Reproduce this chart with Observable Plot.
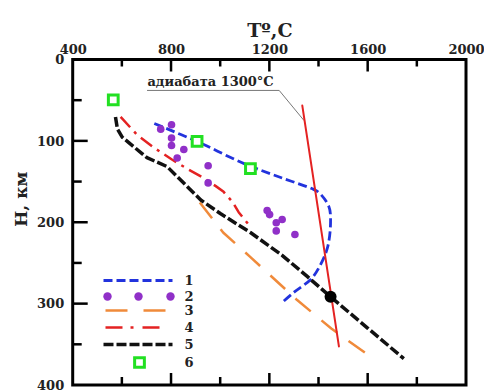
<!DOCTYPE html>
<html><head><meta charset="utf-8">
<script src="https://cdn.jsdelivr.net/npm/d3@7"></script>
<script src="https://cdn.jsdelivr.net/npm/@observablehq/plot@0.6"></script>
<style>
body{margin:0;background:#fff;}
#wrap{position:relative;width:484px;height:390px;}
#overlay{position:absolute;left:0;top:0;pointer-events:none;}
svg text{font-family:'DejaVu Serif',serif;font-weight:bold;}
</style></head>
<body><div id="wrap"><div id="chart"></div></div>
<script>
// ---- data (T in °C, H in km) ----
const xTicks = [400, 800, 1200, 1600, 2000];
const yTicks = [0, 100, 200, 300, 400];
const xMinor = [600, 1000, 1400, 1800];
const xMajorInner = [800, 1200, 1600];
const yMajorInner = [100, 200, 300];
const yMinor = [50, 150, 250, 350];

const curve1T = [730, 910, 1100, 1250, 1370, 1400, 1440, 1447, 1435, 1400, 1365, 1300, 1250];
const curve1H = [78, 101, 128, 145, 158, 163, 180, 197, 230, 255, 270, 285, 298];

const points2T = [756, 800, 800, 800, 850, 823, 949, 949, 1189, 1199, 1250, 1226, 1226, 1302];
const points2H = [85, 79.5, 96, 105, 110, 120.5, 130, 151, 185, 190, 196, 200, 210, 214.5];

const curve3T = [915, 1010, 1120, 1311, 1450, 1630];
const curve3H = [175, 212, 242, 295, 330, 369];

const curve4T = [593, 660, 730, 800, 860, 925, 980, 1012, 1047, 1073, 1121];
const curve4H = [70, 92, 108, 122, 133, 144, 155, 162, 174, 187, 205];

const curve5T = [572, 580, 600, 700, 782, 919, 1000, 1121, 1250, 1352, 1447, 1600, 1745];
const curve5H = [70, 85, 95, 120, 131, 172, 189, 212, 240, 266, 291, 330, 367];

const points6T = [563, 904, 1121];
const points6H = [49, 100, 133.5];

const adiabatT = [1332, 1481];
const adiabatH = [56, 352];
const adiabatLabel = "адиабата 1300°С";
const leaderT = [702, 1238, 1338];
const leaderH = [37.4, 37.4, 74];
const intersectT = [1447];
const intersectH = [291];

const legendLabels = ["1", "2", "3", "4", "5", "6"];

// ---- styles ----
const C = {blue:"#2233dd", purple:"#9030c8", orange:"#f08a3a", red:"#e42222", black:"#111", green:"#22e022"};
const dash1 = "9,4", dash3 = "20,14", dash4 = "14,6,3,6", dash5 = "10,3";

const W = 484, H = 390, mL = 72.7, mR = 18, mT = 59.5, mB = 5;
const xRange = [mL, W - mR], yRange = [mT, H - mB];
const sx = Plot.scale({x: {domain: [400, 2000], range: xRange}});
const sy = Plot.scale({y: {domain: [0, 400], range: yRange}});
const ix = p => sx.invert(p), iy = p => sy.invert(p);

const zip = (a, b) => a.map((v, i) => ({T: v, H: b[i]}));

// legend layout (pixel positions inside frame)
const lgX1 = 103, lgX2 = 172, lgLabelX = 184;
const lgY = [280, 296, 310, 327, 344, 362];
const seg = (x1, x2, y) => [{T: ix(x1), H: iy(y)}, {T: ix(x2), H: iy(y)}];
const L = {x: "T", y: "H", strokeLinecap: "butt"};

const marks = [
  Plot.axisX({anchor: "top", ticks: xTicks, tickFormat: d => String(d), tickSize: 0, tickPadding: 6, label: null, fontSize: 13, fill: "#222"}),
  Plot.axisY({anchor: "left", ticks: yTicks, tickFormat: d => String(d), tickSize: 0, tickPadding: 9, label: null, fontSize: 13, fill: "#222"}),
  Plot.text(["Tº,C"], {frameAnchor: "top", dy: -37, fontSize: 19, fill: "#222"}),
  Plot.text(["H, км"], {frameAnchor: "left", dx: -52, dy: 4, rotate: -90, fontSize: 17, fill: "#222"}),
  Plot.line(zip(leaderT, leaderH), {x: "T", y: "H", stroke: "#777", strokeWidth: 1}),
  Plot.text([adiabatLabel], {x: leaderT[0], y: leaderH[0], dy: -9, textAnchor: "start", fontSize: 13, fill: "#222"}),
  Plot.line(zip(curve3T, curve3H), {...L, stroke: C.orange, strokeWidth: 2.5, strokeDasharray: dash3}),
  Plot.line(zip(curve4T, curve4H), {...L, stroke: C.red, strokeWidth: 2.5, strokeDasharray: dash4}),
  Plot.line(zip(curve1T, curve1H), {...L, stroke: C.blue, strokeWidth: 2.8, strokeDasharray: dash1, curve: "catmull-rom"}),
  Plot.line(zip(curve5T, curve5H), {...L, stroke: C.black, strokeWidth: 3.5, strokeDasharray: dash5}),
  Plot.line(zip(adiabatT, adiabatH), {x: "T", y: "H", stroke: C.red, strokeWidth: 2}),
  Plot.dot(zip(points2T, points2H), {x: "T", y: "H", r: 3.8, fill: C.purple, stroke: "none"}),
  Plot.dot(zip(intersectT, intersectH), {x: "T", y: "H", r: 6, fill: "#000"}),
  Plot.dot(zip(points6T, points6H), {x: "T", y: "H", symbol: "square", r: 5.5, fill: "#fff", stroke: C.green, strokeWidth: 3}),
  Plot.line(seg(lgX1, lgX2, lgY[0]), {...L, stroke: C.blue, strokeWidth: 2.8, strokeDasharray: dash1}),
  Plot.dot([107, 138, 170].map(p => ({T: ix(p), H: iy(lgY[1])})), {x: "T", y: "H", r: 4.2, fill: C.purple}),
  Plot.line(seg(lgX1 + 2, lgX2 - 5, lgY[2]), {...L, stroke: C.orange, strokeWidth: 2.5, strokeDasharray: "22,16"}),
  Plot.line(seg(lgX1 + 2, lgX2 - 8, lgY[3]), {...L, stroke: C.red, strokeWidth: 2.5, strokeDasharray: "17,8,3,9"}),
  Plot.line(seg(lgX1, lgX2, lgY[4]), {...L, stroke: C.black, strokeWidth: 3.5, strokeDasharray: dash5}),
  Plot.dot([{T: ix(139), H: iy(lgY[5])}], {x: "T", y: "H", symbol: "square", r: 5.5, fill: "#fff", stroke: C.green, strokeWidth: 3}),
  Plot.text(legendLabels.map((l, i) => ({l, T: ix(lgLabelX), H: iy(lgY[i])})), {x: "T", y: "H", text: "l", textAnchor: "start", fontSize: 13, fill: "#222"})
];

const chart = Plot.plot({
  width: W, height: H,
  marginLeft: mL, marginRight: mR, marginTop: mT, marginBottom: mB,
  x: {domain: [400, 2000], range: xRange, axis: null},
  y: {domain: [0, 400], range: yRange, axis: null},
  style: {background: "#fff", color: "#111", fontFamily: "'DejaVu Serif', serif"},
  marks
});
document.getElementById("chart").append(chart);

// frame and inward ticks, drawn on top with the same scales
const ov = d3.select("#wrap").append("svg").attr("id", "overlay").attr("width", W).attr("height", H);
const gT = ov.append("g").attr("stroke", "#000").attr("stroke-width", 2.5);
const vt = (vals, y0, len) => vals.forEach(v => gT.append("line").attr("x1", sx.apply(v)).attr("x2", sx.apply(v)).attr("y1", y0).attr("y2", y0 + len));
const ht = (vals, len) => vals.forEach(v => gT.append("line").attr("y1", sy.apply(v)).attr("y2", sy.apply(v)).attr("x1", mL).attr("x2", mL + len));
vt(xMajorInner, mT, 12); vt(xMinor, mT, 7);
vt(xMajorInner, H - mB, -12); vt(xMinor, H - mB, -8);
ht(yMajorInner, 15); ht(yMinor, 9);
ov.append("rect").attr("x", sx.apply(400)).attr("y", sy.apply(0))
  .attr("width", sx.apply(2000) - sx.apply(400)).attr("height", sy.apply(400) - sy.apply(0))
  .attr("fill", "none").attr("stroke", "#000").attr("stroke-width", 3);
</script>
</body></html>
